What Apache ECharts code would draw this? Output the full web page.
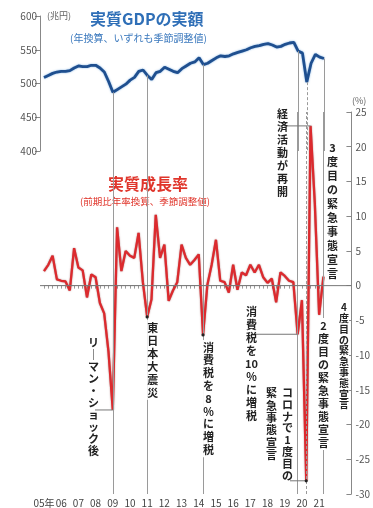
<!DOCTYPE html>
<html>
<head>
<meta charset="utf-8">
<script src="https://cdn.jsdelivr.net/npm/echarts@6/dist/echarts.min.js"></script>
<style>
html,body{margin:0;padding:0;background:#fff}
#c{width:373px;height:508px}
</style>
</head>
<body>
<div id="c"></div>
<script>
// Quarterly series, 2005 Q1 .. 2021 Q2
const startYear = 2005;
const yearLabels = ['05年','06','07','08','09','10','11','12','13','14','15','16','17','18','19','20','21'];

// Real GDP, trillion yen (annualized, seasonally adjusted)
const gdp = [509,512,515,517,518,518,519,523,526,525,
             525,527,527,523,517,503,487,491,495,499,
             505,509,518,520,512,506,516,518,524,521,
             518,516,522,526,530,532,538,528,530,534,
             538,541,540,541,544,546,548,550,553,555,
             556,558,559,557,554,555,558,560,561,548,
             545,502,530,543,539,537];

// Real growth rate, % (q/q annualized)
const growth = [2.1,3.0,4.3,0.9,0.7,0.6,-0.7,5.4,2.6,2.2,
                -1.7,1.6,1.2,-2.5,-4.0,-9.5,-17.9,8.4,2.1,5.0,
                4.3,4.0,7.6,0.5,-4.5,-2.0,10.2,4.0,5.9,-2.2,
                -0.7,0.5,5.9,4.0,3.0,3.7,4.5,-7.1,0.1,3.0,
                6.6,0.7,0.5,-1.0,3.0,-0.6,1.9,1.5,3.0,1.9,
                3.0,1.2,0.4,1.0,-2.4,1.9,1.4,0.7,0.5,-7.0,
                -2.1,-28.1,23.0,11.8,-4.2,1.3];

// Event quarters (index into the series)
const eventIdx   = [16, 24, 37, 59, 61, 65];
const eventDash  = [false, false, false, false, true, false];

const gdpTicks = [400, 600, 50];
const rateTicks = [-30, 25, 5];

const quarters = gdp.map((_, i) => (startYear + Math.floor(i / 4)) + 'Q' + (i % 4 + 1));

const FONT = '"Noto Sans CJK JP", "Noto Sans", sans-serif';
const chart = echarts.init(document.getElementById('c'), null, {renderer: 'canvas'});

const evLinesGdp = eventIdx.map((q, k) => [
  {coord: [q, gdp[q]], lineStyle: {type: eventDash[k] ? [3, 2] : 'solid'}},
  {coord: [q, gdpTicks[0]]}
]);
const evLinesRate = eventIdx.map((q, k) => [
  {coord: [q, rateTicks[0]], lineStyle: {type: eventDash[k] ? [3, 2] : 'solid'}},
  {coord: [q, rateTicks[1]]}
]);

chart.setOption({
  animation: false,
  backgroundColor: '#fff',
  textStyle: {fontFamily: FONT},
  grid: [
    {left: 44, right: 49, top: 16, height: 135},
    {left: 44, right: 49, top: 112, bottom: 12}
  ],
  xAxis: [
    {gridIndex: 0, type: 'category', data: quarters, boundaryGap: false, show: false},
    {gridIndex: 1, type: 'category', data: quarters, boundaryGap: false,
     axisLine: {lineStyle: {color: '#aaa', width: 1}},
     axisTick: {show: true, interval: 0, length: 3, lineStyle: {color: '#999'}},
     axisLabel: {
       interval: (i) => i % 4 === 0,
       formatter: (v, i) => yearLabels[Math.floor(i / 4)],
       color: '#444', fontSize: 10, margin: 4, fontFamily: FONT
     }}
  ],
  yAxis: [
    {gridIndex: 0, type: 'value', min: gdpTicks[0], max: gdpTicks[1], interval: gdpTicks[2],
     position: 'left', offset: 4, splitLine: {show: false},
     axisLine: {show: true, lineStyle: {color: '#888'}},
     axisTick: {show: true, length: 5, lineStyle: {color: '#888'}},
     axisLabel: {color: '#555', fontSize: 10, margin: 3, fontFamily: FONT}},
    {gridIndex: 1, type: 'value', min: rateTicks[0], max: rateTicks[1], interval: rateTicks[2],
     position: 'right', offset: 28, splitLine: {show: false},
     axisLine: {show: true, lineStyle: {color: '#888'}},
     axisTick: {show: true, inside: true, length: 5, lineStyle: {color: '#888'}},
     axisLabel: {color: '#555', fontSize: 10, margin: 4, fontFamily: FONT}}
  ],
  series: [
    {type: 'line', xAxisIndex: 0, yAxisIndex: 0, data: [], z: 1,
     markLine: {silent: true, symbol: 'none', label: {show: false},
                lineStyle: {color: '#9a9a9a', width: 1}, data: evLinesGdp}},
    {type: 'line', xAxisIndex: 1, yAxisIndex: 1, data: [], z: 1,
     markLine: {silent: true, symbol: 'none', label: {show: false},
                lineStyle: {color: '#9a9a9a', width: 1}, data: evLinesRate}},
    {name: '実質GDP', type: 'line', xAxisIndex: 0, yAxisIndex: 0, data: gdp, z: 4,
     symbol: 'none', lineStyle: {color: '#1f4f8f', width: 2.8,
       shadowColor: 'rgba(70,140,210,0.7)', shadowBlur: 2}},
    {name: '実質成長率', type: 'line', xAxisIndex: 1, yAxisIndex: 1, data: growth, z: 4,
     symbol: 'none', lineStyle: {color: '#dc2a2e', width: 2.3,
       shadowColor: 'rgba(110,20,20,0.6)', shadowBlur: 1.5}}
  ]
});

// Annotations placed from the series values through the axes
const px = (i) => chart.convertToPixel({gridIndex: 1}, [i, growth[i]]);
const zeroY = chart.convertToPixel({yAxisIndex: 1}, 0);
const leftAxisX = chart.convertToPixel({xAxisIndex: 1}, 0) - 4;
const rightAxisX = chart.convertToPixel({xAxisIndex: 1}, gdp.length - 1) + 28;

function vtext(chars, x, top, opt) {
  opt = opt || {};
  return {
    type: 'text', left: x, top: top, z: 20,
    style: {
      text: chars.join('\n'), x: 0, y: 0,
      font: 'bold ' + (opt.size || 11) + 'px ' + FONT,
      fill: opt.color || '#222', textAlign: 'center',
      lineHeight: opt.lh || 12.8,
      backgroundColor: opt.bg || null, padding: opt.bg ? [1, 0] : 0
    }
  };
}
function seg(x1, y1, x2, y2, dash) {
  return {type: 'line', z: 15, shape: {x1, y1, x2, y2},
          style: {stroke: '#777', lineWidth: 1, lineDash: dash || null}};
}
function dot(p) {
  return {type: 'circle', z: 16, shape: {cx: p[0], cy: p[1], r: 1.6}, style: {fill: '#222'}};
}

const pL = px(16), pQ = px(24), p8 = px(37), p10 = px(59), pC = px(61), pR = px(62);

chart.setOption({graphic: [
  // zero line of the growth scale
  seg(leftAxisX, zeroY, rightAxisX, zeroY),
  {type: 'text', left: 90, top: 11, style: {text: '実質GDPの実額', font: 'bold 16px ' + FONT, fill: '#2f6fb7'}},
  {type: 'text', left: 70, top: 33, style: {text: '(年換算、いずれも季節調整値)', font: '10px ' + FONT, fill: '#3a78bd'}},
  {type: 'text', left: 47, top: 11, style: {text: '(兆円)', font: '9px ' + FONT, fill: '#666'}},
  {type: 'text', left: 352, top: 96, style: {text: '(%)', font: '9px ' + FONT, fill: '#666'}},
  {type: 'text', left: 108, top: 176, style: {text: '実質成長率', font: 'bold 16px ' + FONT, fill: '#e0352b'}},
  {type: 'text', left: 80, top: 197, style: {text: '(前期比年率換算、季節調整値)', font: '9.5px ' + FONT, fill: '#e0352b'}},

  // Lehman
  vtext(['リ','｜','マ','ン','・','シ','ョ','ッ','ク','後'], 88, 337, {lh: 12}),
  seg(95, pL[1], pL[0], pL[1]),
  // earthquake
  dot(pQ),
  vtext(['東','日','本','大','震','災'], pQ[0], pQ[1] + 3, {bg: '#fff', lh: 13}),
  // consumption tax 8%
  dot(p8),
  vtext(['消','費','税','を','8','%','に','増','税'], p8[0], p8[1] + 5, {bg: '#fff', lh: 12.8}),
  // consumption tax 10%
  vtext(['消','費','税','を','10','%','に','増','税'], 245, 305, {lh: 13}),
  seg(252, p10[1], p10[0], p10[1]),
  // restart
  vtext(['経','済','活','動','が','再','開'], 277, 107, {lh: 13}),
  seg(284, pR[1], pR[0], pR[1]),
  // first emergency
  vtext(['コ','ロ','ナ','で','1','度','目','の'], 282, 387, {lh: 11.8}),
  vtext(['緊','急','事','態','宣','言'], 266, 387, {lh: 12.3}),
  seg(290, pC[1], pC[0], pC[1]),
  dot(pC),
  // second, third, fourth emergencies
  vtext(['2','度','目','の','緊','急','事','態','宣','言'], 318, 318, {bg: '#fff', lh: 13}),
  vtext(['3','度','目','の','緊','急','事','態','宣','言'], 327, 140, {bg: '#fff', lh: 14}),
  vtext(['4','度','目','の','緊','急','事','態','宣','言'], 339, 301, {bg: '#fff', lh: 10.8, size: 10})
]});
</script>
</body>
</html>
